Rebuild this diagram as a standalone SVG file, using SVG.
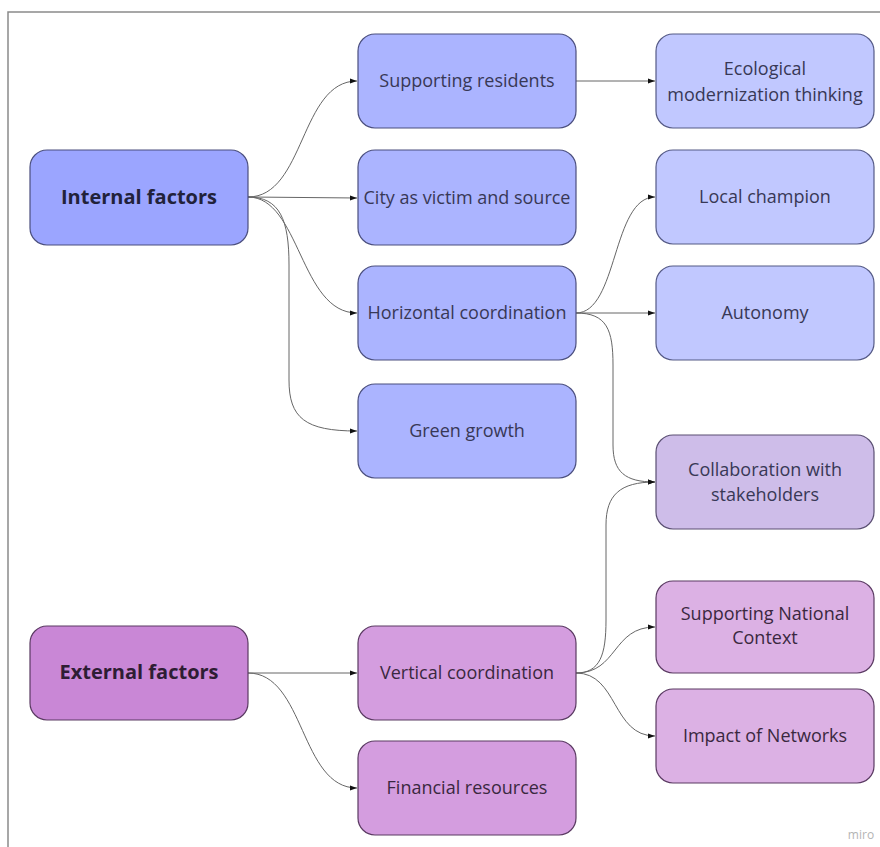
<svg xmlns="http://www.w3.org/2000/svg" width="880" height="847" viewBox="0 0 880 847">
<defs>
<style>
.box{stroke-width:1.2}
.b1{fill:#9ba5ff;stroke:#4b4f7e}
.b2{fill:#abb4ff;stroke:#4b4f7e}
.b3{fill:#c1c8ff;stroke:#555a86}
.bc{fill:#cebde9;stroke:#5a4f72}
.p1{fill:#c987d6;stroke:#5a3a62}
.p2{fill:#d49ddf;stroke:#5a3a62}
.p3{fill:#dcb1e4;stroke:#5a3a62}
text{font-family:"Open Sans","Noto Sans","Liberation Sans",sans-serif;text-anchor:middle;font-size:18px;fill:#383856}
.root{font-weight:bold;font-size:20px;fill:#22223a}
.ext{fill:#3a2840}
.root.ext{fill:#2e1d34}
.conn path{fill:none;stroke:#666;stroke-width:1;marker-end:url(#ah)}
</style>
<marker id="ah" markerWidth="8" markerHeight="6" refX="7" refY="3" orient="auto" markerUnits="userSpaceOnUse">
<path d="M0,0.5 L7,3 L0,5.5 Z" fill="#111"/>
</marker>
</defs>
<rect width="880" height="847" fill="#fff"/>
<path d="M8,847 L8,12 L880,12" fill="none" stroke="#8a8a8a" stroke-width="1.5"/>

<g class="conn" id="connectors">
<path d="M248,197 C305,197 300,81 357,81"/>
<path d="M248,197 L357,198"/>
<path d="M248,197 C300,197 300,313 357,313"/>
<path d="M248,197 C280,197 289,220 289,265 L289,380 C289,418 305,431 357,431"/>
<path d="M576,81 L655,81"/>
<path d="M576,313 C618,313 612,197 655,197"/>
<path d="M576,313 L655,313"/>
<path d="M576,313 C607,313 613,330 613,365 L613,445 C613,472 625,482 655,482"/>
<path d="M576,673 C600,673 606,655 606,620 L606,525 C606,495 620,482 655,482"/>
<path d="M576,673 C618,673 612,627 655,627"/>
<path d="M576,673 C618,673 612,736 655,736"/>
<path d="M248,673 L357,673"/>
<path d="M248,673 C305,673 300,788 357,788"/>
</g>

<g id="internal-factors"><rect class="box b1" x="30" y="150" width="218" height="95" rx="17"/><text class="root" x="139" y="204">Internal factors</text></g>
<g id="supporting-residents"><rect class="box b2" x="358" y="34" width="218" height="94" rx="17"/><text x="467" y="87">Supporting residents</text></g>
<g id="city-victim"><rect class="box b2" x="358" y="150" width="218" height="95" rx="17"/><text x="467" y="204">City as victim and source</text></g>
<g id="horizontal-coordination"><rect class="box b2" x="358" y="266" width="218" height="94" rx="17"/><text x="467" y="319">Horizontal coordination</text></g>
<g id="green-growth"><rect class="box b2" x="358" y="384" width="218" height="94" rx="17"/><text x="467" y="437">Green growth</text></g>
<g id="ecological"><rect class="box b3" x="656" y="34" width="218" height="94" rx="17"/><text x="765" y="75">Ecological</text><text x="765" y="101">modernization thinking</text></g>
<g id="local-champion"><rect class="box b3" x="656" y="150" width="218" height="94" rx="17"/><text x="765" y="203">Local champion</text></g>
<g id="autonomy"><rect class="box b3" x="656" y="266" width="218" height="94" rx="17"/><text x="765" y="319">Autonomy</text></g>
<g id="collaboration"><rect class="box bc" x="656" y="435" width="218" height="94" rx="17"/><text x="765" y="476">Collaboration with</text><text x="765" y="501">stakeholders</text></g>
<g id="external-factors"><rect class="box p1" x="30" y="626" width="218" height="94" rx="17"/><text class="root ext" x="139" y="679">External factors</text></g>
<g id="vertical-coordination"><rect class="box p2" x="358" y="626" width="218" height="94" rx="17"/><text class="ext" x="467" y="679">Vertical coordination</text></g>
<g id="financial-resources"><rect class="box p2" x="358" y="741" width="218" height="94" rx="17"/><text class="ext" x="467" y="794">Financial resources</text></g>
<g id="supporting-national"><rect class="box p3" x="656" y="581" width="218" height="92" rx="17"/><text class="ext" x="765" y="620">Supporting National</text><text class="ext" x="765" y="644">Context</text></g>
<g id="impact-networks"><rect class="box p3" x="656" y="689" width="218" height="94" rx="17"/><text class="ext" x="765" y="742">Impact of Networks</text></g>

<text x="861" y="839" style="font-size:12px;fill:#b4b4b4;font-family:'Open Sans','Liberation Sans',sans-serif">miro</text>
</svg>
